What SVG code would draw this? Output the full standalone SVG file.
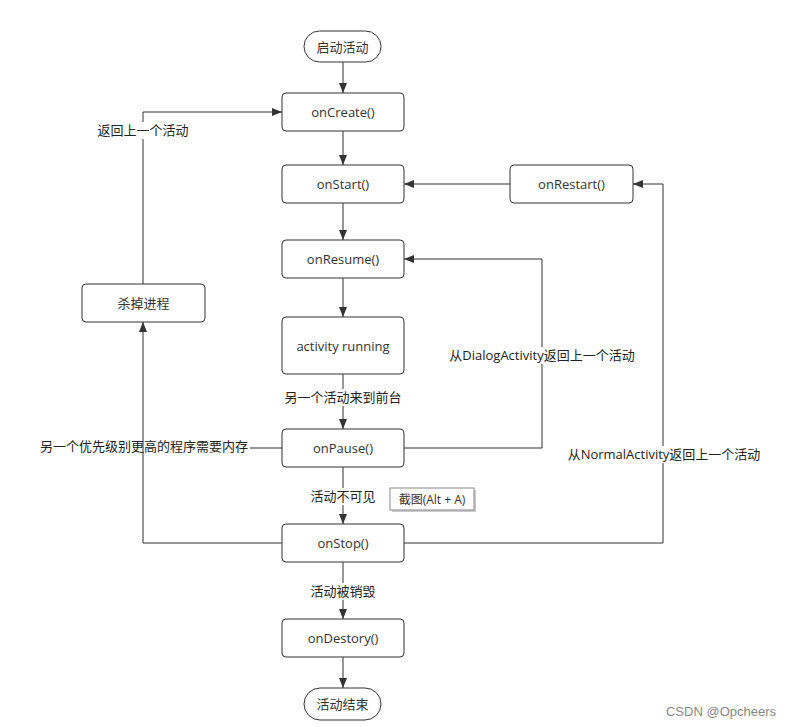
<svg xmlns="http://www.w3.org/2000/svg" width="789" height="727" viewBox="0 0 789 727">
<style>
.n{fill:#fff;stroke:#333;stroke-width:1}
.t{font-family:"Open Sans","Noto Sans CJK SC",sans-serif;font-size:13px;fill:#333;text-anchor:middle;dominant-baseline:central}
.l{font-family:"Open Sans","Noto Sans CJK SC",sans-serif;font-size:13px;fill:#222;text-anchor:middle;dominant-baseline:central}
.c{fill:none;stroke:#333;stroke-width:1}
.bg{fill:#fff}
</style>
<defs>
<marker id="a" viewBox="0 0 10 10" refX="10" refY="5" markerWidth="10" markerHeight="10" markerUnits="userSpaceOnUse" orient="auto">
<path d="M0,1 L10,5 L0,9 Z" fill="#333"/>
</marker>
</defs>
<rect width="789" height="727" fill="#fff"/>
<g id="connectors">
<path class="c" d="M343,62 V93" marker-end="url(#a)"/>
<path class="c" d="M343,131 V165" marker-end="url(#a)"/>
<path class="c" d="M343,203 V240" marker-end="url(#a)"/>
<path class="c" d="M343,278 V317" marker-end="url(#a)"/>
<path class="c" d="M343,374 V429" marker-end="url(#a)"/>
<path class="c" d="M343,467 V524" marker-end="url(#a)"/>
<path class="c" d="M343,562 V619" marker-end="url(#a)"/>
<path class="c" d="M343,657 V688" marker-end="url(#a)"/>
<path class="c" d="M510,184 H404" marker-end="url(#a)"/>
<path class="c" d="M404,543 H663 V184 H633" marker-end="url(#a)" stroke="#555"/>
<path class="c" d="M404,448 H542 V259 H404" marker-end="url(#a)"/>
<path class="c" d="M282,543 H143 V322" marker-end="url(#a)"/>
<path class="c" d="M282,448 H250"/>
<path class="c" d="M143,284 V112 H282" marker-end="url(#a)"/>
<rect class="bg" x="278" y="389" width="130" height="17"/>
<text class="l" x="343" y="397">另一个活动来到前台</text>
<rect class="bg" x="305" y="488" width="76" height="17"/>
<text class="l" x="343" y="496">活动不可见</text>
<rect class="bg" x="305" y="583" width="76" height="17"/>
<text class="l" x="343" y="591">活动被销毁</text>
<rect class="bg" x="94" y="122" width="98" height="17"/>
<text class="l" x="143" y="130">返回上一个活动</text>
<text class="l" x="144" y="446">另一个优先级别更高的程序需要内存</text>
<rect class="bg" x="446" y="347" width="194" height="17"/>
<text class="l" x="542" y="355">从DialogActivity返回上一个活动</text>
<rect class="bg" x="564" y="446" width="200" height="17"/>
<text class="l" x="664" y="454">从NormalActivity返回上一个活动</text>
</g>
<g id="start"><rect class="n" x="304" y="31" width="77" height="31" rx="15.5"/><text class="t" x="342.5" y="46.5">启动活动</text></g>
<g id="onCreate"><rect class="n" x="282" y="93" width="122" height="38" rx="4"/><text class="t" x="343" y="112">onCreate()</text></g>
<g id="onStart"><rect class="n" x="282" y="165" width="122" height="38" rx="4"/><text class="t" x="343" y="184">onStart()</text></g>
<g id="onRestart"><rect class="n" x="510" y="165" width="123" height="38" rx="4"/><text class="t" x="571.5" y="184">onRestart()</text></g>
<g id="onResume"><rect class="n" x="282" y="240" width="122" height="38" rx="4"/><text class="t" x="343" y="259">onResume()</text></g>
<g id="running"><rect class="n" x="282" y="317" width="122" height="57" rx="4"/><text class="t" x="343" y="345.5">activity running</text></g>
<g id="onPause"><rect class="n" x="282" y="429" width="122" height="38" rx="4"/><text class="t" x="343" y="448">onPause()</text></g>
<g id="onStop"><rect class="n" x="282" y="524" width="122" height="38" rx="4"/><text class="t" x="343" y="543">onStop()</text></g>
<g id="onDestory"><rect class="n" x="282" y="619" width="122" height="38" rx="4"/><text class="t" x="343" y="638">onDestory()</text></g>
<g id="end"><rect class="n" x="304" y="688" width="77" height="32" rx="16"/><text class="t" x="342.5" y="704">活动结束</text></g>
<g id="kill"><rect class="n" x="82" y="284" width="123" height="38" rx="4"/><text class="t" x="143.5" y="303">杀掉进程</text></g>
<g id="tooltip">
<rect x="392" y="490" width="84" height="22" fill="#ccc"/>
<rect x="390" y="488" width="84" height="22" fill="#fff" stroke="#888" stroke-width="1"/>
<text x="432" y="499" font-family="Open Sans,'Noto Sans CJK SC',sans-serif" font-size="12" fill="#333" text-anchor="middle" dominant-baseline="central">截图(Alt + A)</text>
</g>
<text x="721" y="711" font-family="Liberation Sans,Arial,sans-serif" font-size="13" fill="#888" text-anchor="middle" dominant-baseline="central">CSDN @Opcheers</text>
</svg>
